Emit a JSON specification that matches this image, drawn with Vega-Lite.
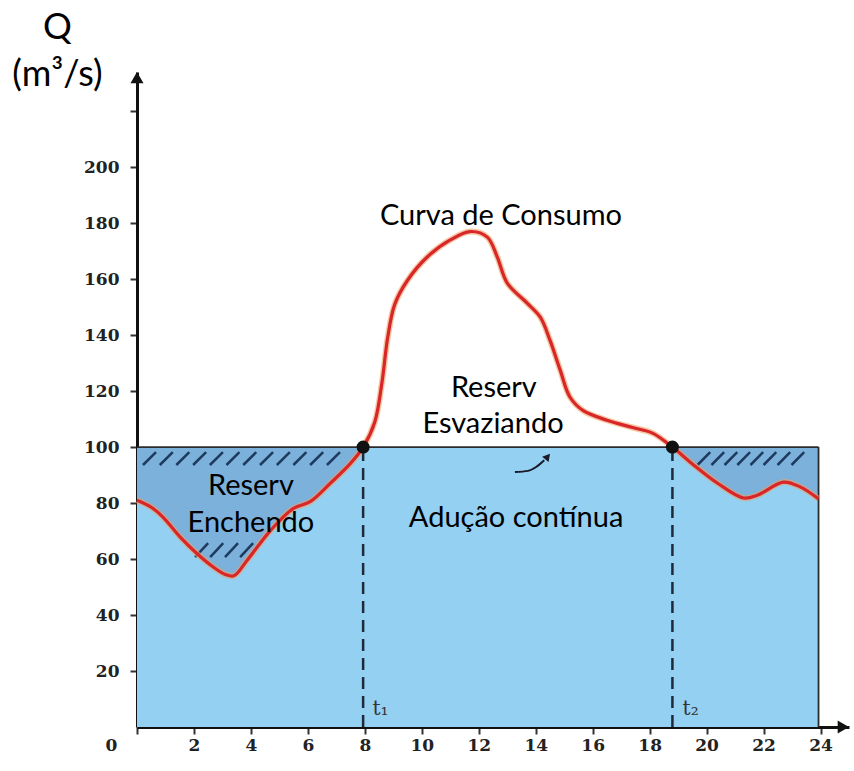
{
  "$schema": "https://vega.github.io/schema/vega-lite/v6.json",
  "width": 712,
  "height": 655,
  "autosize": {"type": "none"},
  "padding": {"left": 137, "top": 72, "right": 5, "bottom": 44},
  "background": "white",
  "config": {"view": {"stroke": null}, "font": "Lato"},
  "datasets": {
    "box": [{"x0": 0, "x1": 23.93, "y0": 0, "y1": 100}],
    "curve": [
      {"h": 0, "q": 81, "seg": "A"},
      {"h": 0.5, "q": 78.5, "seg": "A"},
      {"h": 0.91, "q": 75, "seg": "A"},
      {"h": 1.5, "q": 68, "seg": "A"},
      {"h": 2.1, "q": 62, "seg": "A"},
      {"h": 2.7, "q": 57, "seg": "A"},
      {"h": 3.1, "q": 54.5, "seg": "A"},
      {"h": 3.4, "q": 54, "seg": "A"},
      {"h": 3.87, "q": 59.6, "seg": "A"},
      {"h": 4.67, "q": 70, "seg": "A"},
      {"h": 5.48, "q": 78, "seg": "A"},
      {"h": 6.08, "q": 80.5, "seg": "A"},
      {"h": 6.78, "q": 87, "seg": "A"},
      {"h": 7.48, "q": 94, "seg": "A"},
      {"h": 7.94, "q": 100, "seg": "A"},
      {"h": 8.35, "q": 109, "seg": "M"},
      {"h": 8.6, "q": 123, "seg": "M"},
      {"h": 8.8, "q": 139, "seg": "M"},
      {"h": 9.05, "q": 151, "seg": "M"},
      {"h": 9.5, "q": 159.6, "seg": "M"},
      {"h": 10.19, "q": 167.9, "seg": "M"},
      {"h": 11.0, "q": 174, "seg": "M"},
      {"h": 11.7, "q": 177, "seg": "M"},
      {"h": 12.3, "q": 175, "seg": "M"},
      {"h": 12.65, "q": 167.9, "seg": "M"},
      {"h": 13.0, "q": 158.6, "seg": "M"},
      {"h": 13.7, "q": 151.4, "seg": "M"},
      {"h": 14.16, "q": 146.4, "seg": "M"},
      {"h": 14.5, "q": 138.2, "seg": "M"},
      {"h": 14.86, "q": 127.5, "seg": "M"},
      {"h": 15.2, "q": 117.9, "seg": "M"},
      {"h": 15.67, "q": 113, "seg": "M"},
      {"h": 16.5, "q": 109.6, "seg": "M"},
      {"h": 17.4, "q": 107, "seg": "M"},
      {"h": 18.1, "q": 105, "seg": "M"},
      {"h": 18.8, "q": 100, "seg": "B"},
      {"h": 19.5, "q": 94, "seg": "B"},
      {"h": 20.4, "q": 87, "seg": "B"},
      {"h": 21.3, "q": 81.8, "seg": "B"},
      {"h": 21.8, "q": 82.9, "seg": "B"},
      {"h": 22.7, "q": 87.5, "seg": "B"},
      {"h": 23.3, "q": 85.7, "seg": "B"},
      {"h": 23.93, "q": 81.5, "seg": "B"}
    ],
    "edges": [
      {"x": 0, "x2": 23.93, "y": 100, "y2": 100},
      {"x": 23.93, "x2": 23.93, "y": 0, "y2": 100}
    ],
    "hatch": [
      {"x": 0.21, "x2": 0.667, "y": 93.6, "y2": 98.2},
      {"x": 0.80, "x2": 1.257, "y": 93.6, "y2": 98.2},
      {"x": 1.38, "x2": 1.837, "y": 93.6, "y2": 98.2},
      {"x": 1.97, "x2": 2.427, "y": 93.6, "y2": 98.2},
      {"x": 2.56, "x2": 3.017, "y": 93.6, "y2": 98.2},
      {"x": 3.14, "x2": 3.597, "y": 93.6, "y2": 98.2},
      {"x": 3.73, "x2": 4.187, "y": 93.6, "y2": 98.2},
      {"x": 4.32, "x2": 4.777, "y": 93.6, "y2": 98.2},
      {"x": 4.91, "x2": 5.367, "y": 93.6, "y2": 98.2},
      {"x": 5.49, "x2": 5.947, "y": 93.6, "y2": 98.2},
      {"x": 6.08, "x2": 6.537, "y": 93.6, "y2": 98.2},
      {"x": 6.67, "x2": 7.127, "y": 93.6, "y2": 98.2},
      {"x": 2.04, "x2": 2.497, "y": 60.7, "y2": 65.7},
      {"x": 2.57, "x2": 3.027, "y": 60.7, "y2": 65.7},
      {"x": 3.09, "x2": 3.547, "y": 60.7, "y2": 65.7},
      {"x": 3.62, "x2": 4.077, "y": 60.7, "y2": 65.7},
      {"x": 19.68, "x2": 20.126, "y": 93.6, "y2": 98.2},
      {"x": 20.17, "x2": 20.616, "y": 93.6, "y2": 98.2},
      {"x": 20.63, "x2": 21.076, "y": 93.6, "y2": 98.2},
      {"x": 21.08, "x2": 21.526, "y": 93.6, "y2": 98.2},
      {"x": 21.54, "x2": 21.986, "y": 93.6, "y2": 98.2},
      {"x": 22.0, "x2": 22.446, "y": 93.6, "y2": 98.2},
      {"x": 22.49, "x2": 22.936, "y": 93.6, "y2": 98.2},
      {"x": 22.98, "x2": 23.426, "y": 93.6, "y2": 98.2}
    ],
    "times": [
      {"t": 7.94, "q": 100, "tx": 8.55, "ty": 6.5, "label": "t₁"},
      {"t": 18.8, "q": 100, "tx": 19.44, "ty": 6.5, "label": "t₂"}
    ],
    "texts": [
      {"x": 12.78, "y": 179.3, "text": "Curva de Consumo"},
      {"x": 12.53, "y": 117.9, "text": "Reserv"},
      {"x": 12.5, "y": 105, "text": "Esvaziando"},
      {"x": 4.0, "y": 82.9, "text": "Reserv"},
      {"x": 4.0, "y": 69.6, "text": "Enchendo"},
      {"x": 13.31, "y": 71.4, "text": "Adução contínua"}
    ],
    "uparrow": [{"x": 0, "y": 232}],
    "rightarrow": [{"x": 24.8, "y": 0}],
    "smallarrow": [
      {"x": 13.27, "y": 91.1},
      {"x": 13.73, "y": 91.5},
      {"x": 14.0, "y": 92.8},
      {"x": 14.3, "y": 95.3}
    ],
    "smallhead": [{"x": 14.42, "y": 96.6}]
  },
  "layer": [
    {
      "data": {"name": "box"},
      "mark": {"type": "rect", "fill": "#93D0F2"},
      "encoding": {
        "x": {
          "field": "x0", "type": "quantitative",
          "scale": {"domain": [0, 25], "nice": false, "zero": false},
          "axis": {
            "values": [0, 2, 4, 6, 8, 10, 12, 14, 16, 18, 20, 22, 24],
            "title": null, "grid": false,
            "domainColor": "#111", "domainWidth": 3,
            "tickColor": "#333", "tickSize": 7, "tickWidth": 2,
            "labelFont": "DejaVu Serif", "labelFontWeight": "bold", "labelFontSize": 17,
            "labelColor": "#222", "labelPadding": 3, "labelFlush": false,
            "labelOffset": {"expr": "datum.value === 0 ? -26 : 0"}
          }
        },
        "x2": {"field": "x1"},
        "y": {
          "field": "y0", "type": "quantitative",
          "scale": {"domain": [0, 234], "nice": false, "zero": false},
          "axis": {
            "values": [20, 40, 60, 80, 100, 120, 140, 160, 180, 200, 220],
            "labelExpr": "datum.value >= 220 ? '' : datum.label",
            "title": ["Q", "(m³/s)"],
            "titleAngle": 0, "titleX": -80, "titleY": -62,
            "titleAlign": "center", "titleBaseline": "top",
            "titleFont": "Lato", "titleFontSize": 36, "titleFontWeight": "normal",
            "titleLineHeight": 47, "titleColor": "#000",
            "grid": false,
            "domainColor": "#111", "domainWidth": 3,
            "tickColor": "#333", "tickSize": 7, "tickWidth": 2,
            "labelFont": "DejaVu Serif", "labelFontWeight": "bold", "labelFontSize": 17,
            "labelColor": "#222", "labelPadding": 11
          }
        },
        "y2": {"field": "y1"}
      }
    },
    {
      "data": {"name": "curve"},
      "transform": [{"filter": "datum.seg !== 'M'"}],
      "mark": {"type": "area", "interpolate": "catmull-rom", "color": "#7CB1DB"},
      "encoding": {
        "x": {"field": "h", "type": "quantitative"},
        "y": {"field": "q", "type": "quantitative"},
        "y2": {"datum": 100},
        "detail": {"field": "seg"}
      }
    },
    {
      "data": {"name": "edges"},
      "mark": {"type": "rule", "color": "#2B2B2B", "strokeWidth": 1.8},
      "encoding": {
        "x": {"field": "x", "type": "quantitative"},
        "x2": {"field": "x2"},
        "y": {"field": "y", "type": "quantitative"},
        "y2": {"field": "y2"}
      }
    },
    {
      "data": {"name": "hatch"},
      "mark": {"type": "rule", "color": "#1F3A5F", "strokeWidth": 2.5},
      "encoding": {
        "x": {"field": "x", "type": "quantitative"},
        "x2": {"field": "x2"},
        "y": {"field": "y", "type": "quantitative"},
        "y2": {"field": "y2"}
      }
    },
    {
      "data": {"name": "times"},
      "mark": {"type": "rule", "color": "#1E2A3A", "strokeWidth": 2.5, "strokeDash": [12, 7]},
      "encoding": {
        "x": {"field": "t", "type": "quantitative"},
        "y": {"datum": 0},
        "y2": {"datum": 100}
      }
    },
    {
      "data": {"name": "curve"},
      "mark": {"type": "line", "interpolate": "catmull-rom", "color": "#F0A060", "strokeWidth": 6, "opacity": 0.6},
      "encoding": {
        "x": {"field": "h", "type": "quantitative"},
        "y": {"field": "q", "type": "quantitative"}
      }
    },
    {
      "data": {"name": "curve"},
      "mark": {"type": "line", "interpolate": "catmull-rom", "color": "#D8262A", "strokeWidth": 3.2},
      "encoding": {
        "x": {"field": "h", "type": "quantitative"},
        "y": {"field": "q", "type": "quantitative"}
      }
    },
    {
      "data": {"name": "times"},
      "mark": {"type": "point", "shape": "circle", "filled": true, "color": "#111", "size": 170, "opacity": 1},
      "encoding": {
        "x": {"field": "t", "type": "quantitative"},
        "y": {"field": "q", "type": "quantitative"}
      }
    },
    {
      "data": {"name": "times"},
      "mark": {"type": "text", "font": "DejaVu Serif", "fontSize": 20, "color": "#333", "align": "center", "baseline": "middle"},
      "encoding": {
        "x": {"field": "tx", "type": "quantitative"},
        "y": {"field": "ty", "type": "quantitative"},
        "text": {"field": "label"}
      }
    },
    {
      "data": {"name": "texts"},
      "mark": {"type": "text", "font": "Lato", "fontSize": 29, "color": "#000", "align": "center", "baseline": "alphabetic"},
      "encoding": {
        "x": {"field": "x", "type": "quantitative"},
        "y": {"field": "y", "type": "quantitative"},
        "text": {"field": "text"}
      }
    },
    {
      "data": {"name": "uparrow"},
      "mark": {"type": "point", "shape": "triangle-up", "filled": true, "color": "#111", "size": 170, "opacity": 1},
      "encoding": {
        "x": {"field": "x", "type": "quantitative"},
        "y": {"field": "y", "type": "quantitative"}
      }
    },
    {
      "data": {"name": "rightarrow"},
      "mark": {"type": "point", "shape": "triangle-right", "filled": true, "color": "#111", "size": 170, "opacity": 1},
      "encoding": {
        "x": {"field": "x", "type": "quantitative"},
        "y": {"field": "y", "type": "quantitative"}
      }
    },
    {
      "data": {"name": "smallarrow"},
      "mark": {"type": "line", "interpolate": "monotone", "color": "#1A1A2A", "strokeWidth": 2},
      "encoding": {
        "x": {"field": "x", "type": "quantitative"},
        "y": {"field": "y", "type": "quantitative"}
      }
    },
    {
      "data": {"name": "smallhead"},
      "mark": {"type": "point", "shape": "triangle-up", "filled": true, "color": "#1A1A2A", "size": 70, "angle": 40, "opacity": 1},
      "encoding": {
        "x": {"field": "x", "type": "quantitative"},
        "y": {"field": "y", "type": "quantitative"}
      }
    }
  ]
}
